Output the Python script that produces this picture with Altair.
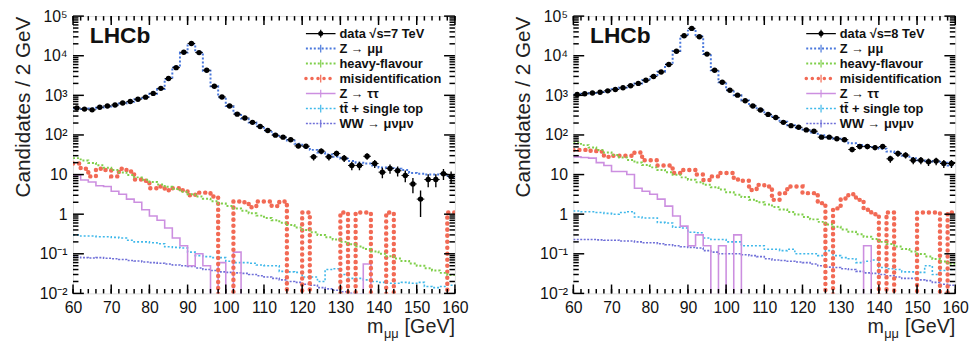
import altair as alt
import pandas as pd
import numpy as np

FONT = "Liberation Sans"
W, H = 387, 281

# ---------------- data (2 GeV bins, 60-160 GeV) ----------------
bin_lo = list(range(60, 160, 2))
bin_centres = [b + 1 for b in bin_lo]

legend_labels = ["data  \u221as=7 TeV", "Z \u2192 \u03bc\u03bc", "heavy-flavour", "misidentification",
                 "Z \u2192 \u03c4\u03c4", "tt\u0304 + single top", "WW \u2192 \u03bc\u03bd\u03bc\u03bd"]

# 7 TeV
data7 = [480, 450, 430, 500, 540, 570, 640, 700, 800, 900, 1120, 1500, 2650, 5000, 12200, 20400, 12000, 4300, 1700, 910,
         540, 335, 268, 208, 163, 130, 99, 88, 76, 53, 52, 28, 39, 28, 34, 26, 17, 17, 29, 19,
         11.5, 14.3, 12.5, 9.5, 5.8, 2.4, 7.5, 7.5, 10.5, 9]
zmm7 = [470, 455, 465, 490, 520, 560, 620, 690, 790, 910, 1100, 1450, 2600, 5200, 12000, 20000, 12300, 4200, 1700, 900,
        540, 350, 260, 205, 165, 130, 103, 86, 72, 60, 50, 42, 36, 32, 28, 25, 22, 20, 19, 17,
        15, 14.5, 14, 13, 11, 10.5, 10, 10, 10.5, 8.5]
hf7 = [26, 22.6, 19.7, 17.1, 14.9, 13.0, 11.3, 9.8, 8.5, 7.4, 6.5, 5.6, 4.9, 4.3, 3.7, 3.2, 2.8, 2.45, 2.13, 1.85,
       1.61, 1.40, 1.22, 1.06, 0.92, 0.80, 0.70, 0.61, 0.53, 0.46, 0.40, 0.35, 0.30, 0.26, 0.23, 0.20, 0.175, 0.152, 0.132, 0.115,
       0.100, 0.087, 0.076, 0.066, 0.057, 0.050, 0.043, 0.038, 0.033, 0.029]
misid7 = [19, 14, 9, 14, 13, 9, 14, 12, 7.5, 7, 4.5, 5, 4, 4.5, 4, 3, 3.5, 3.5, 2.8, 0,
          0, 2.1, 2.0, 1.5, 2.1, 2.1, 1.6, 2.1, 0, 0, 1.1, 0, 0, 0, 0, 1.1, 0, 1.1, 1.1, 0,
          0, 1.1, 0, 0, 0, 0, 0, 0, 0, 1.1]
ztt7 = [9.8, 7.3, 6.5, 5.2, 5.0, 3.8, 3.2, 2.4, 2.0, 1.3, 0.9, 0.7, 0.45, 0.25, 0.16, 0.05, 0.1, 0.05, 0, 0.06,
        0, 0.11, 0, 0, 0, 0, 0, 0, 0, 0, 0, 0, 0, 0, 0, 0, 0, 0, 0.055, 0,
        0, 0, 0, 0, 0, 0, 0, 0, 0, 0]
tt7 = [0.30, 0.28, 0.28, 0.27, 0.27, 0.26, 0.25, 0.22, 0.20, 0.20, 0.19, 0.18, 0.15, 0.145, 0.14, 0.11, 0.09, 0.085, 0.08, 0.08,
       0.065, 0.06, 0.06, 0.058, 0.052, 0.05, 0.05, 0.036, 0.035, 0.034, 0.026, 0.026, 0.02, 0.04, 0.042, 0.03, 0.024, 0.024, 0.022, 0.02,
       0.019, 0.018, 0.018, 0.019, 0.018, 0.019, 0.015, 0.014, 0.015, 0.016]
ww7 = [0.082, 0.080, 0.078, 0.080, 0.077, 0.075, 0.072, 0.068, 0.066, 0.062, 0.060, 0.058, 0.055, 0.052, 0.050, 0.048, 0.044, 0.040, 0.038, 0.035,
       0.034, 0.033, 0.032, 0.030, 0.028, 0.026, 0.024, 0.022, 0.020, 0.019, 0.017, 0.016, 0.014, 0.013, 0.012, 0.011, 0.010, 0.0095, 0.009, 0.0085,
       0.008, 0.0078, 0.0075, 0.0072, 0.007, 0.0068, 0.0066, 0.0064, 0.0062, 0.006]

# 8 TeV
data8 = [1050, 1100, 1150, 1200, 1300, 1400, 1550, 1750, 2000, 2400, 3000, 3900, 6000, 13000, 32000, 49000, 30000, 11000, 4300, 2150,
         1350, 1010, 730, 540, 425, 330, 277, 208, 172, 156, 134, 124, 88, 88, 80, 76, 43, 51, 51, 48,
         51, 25, 34, 31, 23, 23, 21, 22, 19, 19]
zmm8 = [1040, 1090, 1150, 1220, 1300, 1420, 1570, 1760, 2000, 2400, 3000, 3950, 6100, 13200, 31000, 48000, 31000, 11000, 4300, 2150,
        1340, 1000, 740, 550, 430, 335, 270, 215, 175, 150, 130, 115, 98, 88, 80, 72, 62, 56, 52, 50,
        45, 38, 34, 30, 26, 23, 22, 21, 20, 17]
hf8 = [64, 55.4, 48, 41.6, 36, 31.2, 27, 23.4, 20.2, 17.5, 15.2, 13.1, 11.4, 9.9, 8.5, 7.4, 6.4, 5.5, 4.8, 4.2,
       3.6, 3.1, 2.7, 2.3, 2.0, 1.75, 1.52, 1.31, 1.14, 0.98, 0.85, 0.74, 0.64, 0.55, 0.48, 0.41, 0.36, 0.31, 0.27, 0.235,
       0.20, 0.176, 0.152, 0.132, 0.114, 0.099, 0.086, 0.074, 0.064, 0.056]
misid8 = [42, 42, 40, 38, 28, 30, 30, 30, 36, 23, 23, 17, 17, 11, 13, 13, 10, 7.3, 9, 11,
          11, 7.5, 7, 4.1, 5.5, 5, 2.3, 3.4, 5, 5, 3.4, 3.4, 1.9, 0, 1.4, 2.5, 3.2, 2.3, 1.3, 1.0,
          0, 1.1, 0, 0, 0, 1.1, 1.1, 1.1, 0, 1.1]
ztt8 = [28, 27, 26, 20, 17, 12, 12, 10, 4.5, 3.8, 3.2, 2.4, 1.6, 0.9, 0.5, 0.16, 0.3, 0.16, 0, 0.16,
        0, 0.3, 0, 0, 0, 0, 0, 0, 0, 0, 0, 0, 0, 0, 0, 0, 0, 0, 0.16, 0,
        0, 0, 0, 0, 0, 0, 0, 0, 0, 0]
tt8 = [1.2, 1.15, 1.15, 1.1, 1.05, 1.0, 1.1, 1.15, 0.85, 0.8, 0.8, 0.62, 0.6, 0.47, 0.45, 0.35, 0.34, 0.25, 0.23, 0.23,
       0.2, 0.2, 0.16, 0.16, 0.16, 0.13, 0.13, 0.12, 0.13, 0.1, 0.1, 0.1, 0.09, 0.12, 0.09, 0.08, 0.075, 0.06, 0.065, 0.07,
       0.045, 0.042, 0.04, 0.035, 0.035, 0.034, 0.05, 0.03, 0.038, 0.04]
ww8 = [0.23, 0.23, 0.23, 0.225, 0.22, 0.22, 0.21, 0.21, 0.2, 0.19, 0.19, 0.18, 0.17, 0.16, 0.15, 0.145, 0.14, 0.12, 0.11, 0.1,
       0.1, 0.1, 0.095, 0.09, 0.085, 0.075, 0.07, 0.068, 0.065, 0.062, 0.06, 0.055, 0.05, 0.046, 0.045, 0.042, 0.04, 0.036, 0.033, 0.032,
       0.03, 0.028, 0.026, 0.024, 0.024, 0.022, 0.021, 0.019, 0.017, 0.016]

x_major = list(range(60, 161, 10))
x_minor = list(range(60, 161, 2))
y_major = [0.01, 0.1, 1, 10, 100, 1000, 10000, 100000]
y_minor = [m * 10.0 ** k for k in range(-2, 5) for m in range(2, 10)]

# ---------------- styling ----------------
styles = {  # colour, dash, width
    "zmm": ("#4a78dc", [2, 2], 2.0),
    "hf": ("#7fcf4a", [2, 2], 2.0),
    "mis": ("#f26a55", [0.1, 6], 4.5),
    "ztt": ("#cc8fe0", [1, 0], 1.6),
    "tt": ("#3fb8ea", [2, 2], 1.6),
    "ww": ("#6f6fd8", [2, 1.5], 1.6),
}

xs = alt.Scale(domain=[60, 160], nice=False, zero=False)
ys = alt.Scale(type="log", domain=[0.01, 100000], nice=False)

label_expr = ("datum.value > 50000 ? '10\u2075' : datum.value > 5000 ? '10\u2074' : "
              "datum.value > 500 ? '10\u00b3' : datum.value > 50 ? '10\u00b2' : "
              "datum.value > 5 ? '10' : datum.value > 0.5 ? '1' : "
              "datum.value > 0.05 ? '10\u207b\u00b9' : '10\u207b\u00b2'")

x_axis = alt.Axis(values=x_major, ticks=False, domain=False, grid=False, labelFont=FONT, labelFontSize=16,
                  labelPadding=6, labelColor="#111", title=None, labelFlush=False)
y_axis = alt.Axis(values=y_major, labelExpr=label_expr, ticks=False, domain=False, grid=False,
                  labelFont=FONT, labelFontSize=16, labelPadding=6, labelColor="#111",
                  title="Candidates / 2 GeV", titleFont=FONT, titleFontSize=21, titleFontWeight="normal",
                  titleColor="#222", titlePadding=6, titleAnchor="end")


def X(field):
    return alt.X(field, type="quantitative", scale=xs, axis=x_axis)


def Y(field):
    return alt.Y(field, type="quantitative", scale=ys, axis=y_axis)


def step_frame(vals):
    xv = bin_lo + [160]
    yv = [v if v > 0 else 1e-4 for v in vals] + [vals[-1] if vals[-1] > 0 else 1e-4]
    return pd.DataFrame({"x": xv, "y": yv})


def panel(energy, data, zmm, hf, mis, ztt, tt, ww):
    layers = []
    for key, vals in [("ww", ww), ("tt", tt), ("ztt", ztt), ("mis", mis), ("hf", hf), ("zmm", zmm)]:
        c, d, w = styles[key]
        kw = dict(interpolate="step-after", clip=True, color=c, strokeWidth=w, strokeDash=d)
        if key == "mis":
            kw["strokeCap"] = "round"
        layers.append(alt.Chart(step_frame(vals)).mark_line(**kw).encode(x=X("x"), y=Y("y")))

    err = [float(np.sqrt(v)) for v in data]
    dd = pd.DataFrame({"x": bin_centres, "lo_edge": bin_lo, "hi_edge": [b + 2 for b in bin_lo], "y": data,
                       "ylo": [max(v - e, 1e-4) for v, e in zip(data, err)],
                       "yhi": [v + e for v, e in zip(data, err)]})
    layers.append(alt.Chart(dd).mark_rule(clip=True, color="black", strokeWidth=1.4)
                  .encode(x=X("x"), y=Y("ylo"), y2="yhi"))
    layers.append(alt.Chart(dd).mark_rule(clip=True, color="black", strokeWidth=1.0)
                  .encode(x=X("lo_edge"), x2="hi_edge", y=Y("y")))
    layers.append(alt.Chart(dd).mark_point(clip=True, filled=True, shape="circle", size=30, color="black", opacity=1)
                  .encode(x=X("x"), y=Y("y")))

    # inward ticks on all four sides
    ymaj = pd.DataFrame({"v": y_major})
    ymin = pd.DataFrame({"v": y_minor})
    xmaj = pd.DataFrame({"v": x_major})
    xmin = pd.DataFrame({"v": x_minor})
    tk = dict(color="black", strokeWidth=1.5)
    for df, ln in [(ymaj, 11), (ymin, 5.5)]:
        layers.append(alt.Chart(df).mark_rule(**tk).encode(y=Y("v"), x=alt.value(0), x2=alt.value(ln)))
        layers.append(alt.Chart(df).mark_rule(**tk).encode(y=Y("v"), x=alt.value(W), x2=alt.value(W - ln)))
    for df, ln in [(xmaj, 9), (xmin, 4.5)]:
        layers.append(alt.Chart(df).mark_rule(**tk).encode(x=X("v"), y=alt.value(H), y2=alt.value(H - ln)))
        layers.append(alt.Chart(df).mark_rule(**tk).encode(x=X("v"), y=alt.value(0), y2=alt.value(ln)))

    one = pd.DataFrame({"a": [0]})
    layers.append(alt.Chart(one).mark_text(text="LHCb", font=FONT, fontSize=23, fontWeight="bold", align="left",
                                           baseline="alphabetic", color="#111")
                  .encode(x=alt.value(17), y=alt.value(27)))

    # legend
    labels = list(legend_labels)
    labels[0] = "data  \u221as=%d TeV" % energy
    keys = [None, "zmm", "hf", "mis", "ztt", "tt", "ww"]
    for i, (lab, key) in enumerate(zip(labels, keys)):
        yy = 17.7 + 15.2 * i
        if key is None:
            c, d, w = "black", [1, 0], 1.2
        else:
            c, d, w = styles[key]
        kw = dict(color=c, strokeWidth=min(w, 3.5), strokeDash=d)
        if key == "mis":
            kw["strokeCap"] = "round"
        layers.append(alt.Chart(one).mark_rule(**kw).encode(x=alt.value(236), x2=alt.value(266), y=alt.value(yy)))
        layers.append(alt.Chart(one).mark_rule(color=c, strokeWidth=1.2)
                      .encode(x=alt.value(251), y=alt.value(yy - 4), y2=alt.value(yy + 4)))
        if key is None:
            layers.append(alt.Chart(one).mark_point(filled=True, shape="circle", size=26, color="black", opacity=1)
                          .encode(x=alt.value(251), y=alt.value(yy)))
        layers.append(alt.Chart(one).mark_text(text=lab, font=FONT, fontSize=13, fontWeight="bold", align="left",
                                               baseline="middle", color="#111")
                      .encode(x=alt.value(270), y=alt.value(yy)))

    # x-axis title  m_{mu mu} [GeV]
    layers.append(alt.Chart(one).mark_text(text="m", font=FONT, fontSize=20, align="left", baseline="alphabetic",
                                           color="#222").encode(x=alt.value(298), y=alt.value(321)))
    layers.append(alt.Chart(one).mark_text(text="\u03bc\u03bc", font=FONT, fontSize=13, align="left",
                                           baseline="alphabetic", color="#222").encode(x=alt.value(315), y=alt.value(326)))
    layers.append(alt.Chart(one).mark_text(text="[GeV]", font=FONT, fontSize=20, align="left", baseline="alphabetic",
                                           color="#222").encode(x=alt.value(336), y=alt.value(321)))

    return alt.layer(*layers).properties(width=W, height=H)


left = panel(7, data7, zmm7, hf7, misid7, ztt7, tt7, ww7)
right = panel(8, data8, zmm8, hf8, misid8, ztt8, tt8, ww8)

chart = (alt.hconcat(left, right, spacing=44)
         .properties(padding={"left": 12, "top": 5, "right": 5, "bottom": 5}, background="white")
         .configure_view(stroke="black", strokeWidth=2.5)
         .configure(font=FONT))

chart.save("out.html", embed_options={"renderer": "svg", "actions": False})
